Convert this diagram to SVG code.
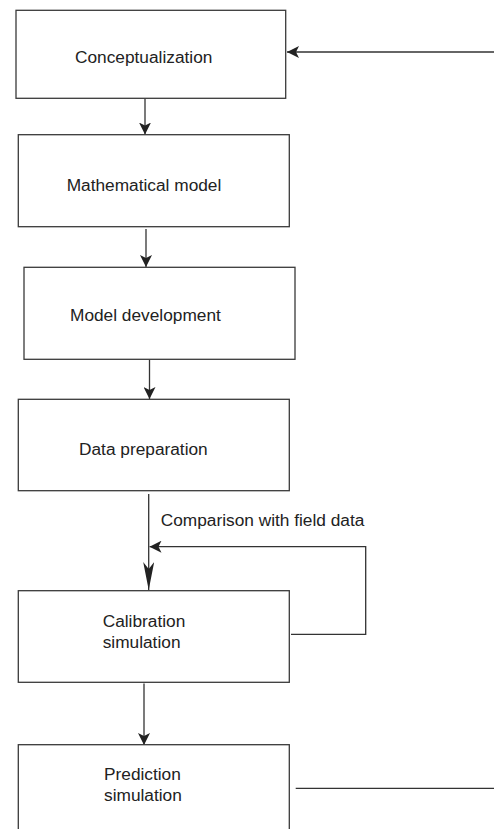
<svg xmlns="http://www.w3.org/2000/svg" width="494" height="829" viewBox="0 0 494 829">
<style>
.box{fill:#fff;stroke:#3a3a3a;stroke-width:1.3}
.ln{fill:none;stroke:#333;stroke-width:1.3}
text{font-family:"Liberation Sans",Arial,sans-serif;font-size:17.3px;fill:#222}
</style>
<defs>
<marker id="arr" viewBox="0 0 12 12" refX="12" refY="6" markerWidth="12" markerHeight="12" markerUnits="userSpaceOnUse" orient="auto">
<path d="M0,0 L12,6 L0,12 L3,6 z" fill="#222"/>
</marker>
<marker id="arrL" viewBox="0 0 28 11" refX="28" refY="5.5" markerWidth="28" markerHeight="11" markerUnits="userSpaceOnUse" orient="auto">
<path d="M0,0 L28,5.5 L0,11 L7,5.5 z" fill="#222"/>
</marker>
</defs>
<rect width="494" height="829" fill="#fff"/>
<g id="connectors">
<line class="ln" x1="494" y1="52" x2="287" y2="52" marker-end="url(#arr)"/>
<line class="ln" x1="145" y1="98.5" x2="145" y2="134.5" marker-end="url(#arr)"/>
<line class="ln" x1="146" y1="229" x2="146" y2="267" marker-end="url(#arr)"/>
<line class="ln" x1="149.5" y1="359.5" x2="149.5" y2="399" marker-end="url(#arr)"/>
<line class="ln" x1="148.7" y1="494" x2="148.7" y2="590" marker-end="url(#arrL)"/>
<polyline class="ln" points="291,634.3 365.7,634.3 365.7,546.7 149.5,546.7" marker-end="url(#arr)"/>
<line class="ln" x1="144" y1="683.5" x2="144" y2="745" marker-end="url(#arr)"/>
<line class="ln" x1="295.7" y1="788.3" x2="494" y2="788.3"/>
<text x="160.7" y="525.5">Comparison with field data</text>
</g>
<g id="conceptualization">
<rect class="box" x="16" y="10.3" width="269.7" height="88"/>
<text x="75" y="62.5">Conceptualization</text>
</g>
<g id="mathematical-model">
<rect class="box" x="18.3" y="134.7" width="271" height="92"/>
<text x="66.7" y="191">Mathematical model</text>
</g>
<g id="model-development">
<rect class="box" x="24" y="267.3" width="271" height="92"/>
<text x="70" y="320.5">Model development</text>
</g>
<g id="data-preparation">
<rect class="box" x="18.3" y="399.3" width="271" height="91.4"/>
<text x="79" y="454.5">Data preparation</text>
</g>
<g id="calibration-simulation">
<rect class="box" x="18.3" y="590.7" width="271" height="91.6"/>
<text x="102.7" y="627">Calibration</text>
<text x="102.7" y="648">simulation</text>
</g>
<g id="prediction-simulation">
<rect class="box" x="18.3" y="744.7" width="271" height="100"/>
<text x="104" y="779.5">Prediction</text>
<text x="104" y="801">simulation</text>
</g>
</svg>
